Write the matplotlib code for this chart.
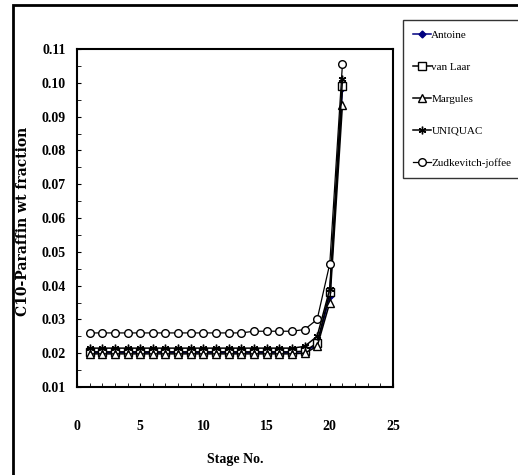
import matplotlib.pyplot as plt
from matplotlib.patches import Rectangle
from matplotlib.ticker import MultipleLocator

stages = list(range(1, 22))

antoine = [0.0202] * 17 + [0.0205, 0.0225, 0.037, 0.0985]
van_laar = [0.0204] * 17 + [0.0206, 0.023, 0.038, 0.099]
margules = [0.0198] * 17 + [0.0200, 0.022, 0.035, 0.0935]
uniquac = [0.0215] * 17 + [0.0220, 0.025, 0.039, 0.101]
zudkevitch = [0.026] * 13 + [0.0265] * 4 + [0.027, 0.030, 0.0465, 0.1055]


def main():
    plt.rcParams['font.family'] = 'Liberation Serif'
    fig = plt.figure(figsize=(5.18, 4.75), dpi=100)
    ax = fig.add_axes([77 / 518, 1 - 387 / 475, 316 / 518, 338 / 475])

    # outer chart frame (cut off on right and bottom like the original)
    fig.patches.append(Rectangle((13 / 518, -0.05), 1.1, 1 - 5 / 475 + 0.05,
                                 transform=fig.transFigure, fill=False,
                                 ec='black', lw=2))

    ms = 5.5
    ax.plot(stages, antoine, color='#000080', marker='D', ms=3.5, lw=1.1, label='Antoine')
    ax.plot(stages, van_laar, color='black', marker='s', ms=ms, mfc='white', lw=1.1, label='van Laar')
    ax.plot(stages, margules, color='black', marker='^', ms=ms, mfc='white', lw=1.1, label='Margules')
    ax.plot(stages, uniquac, color='black', marker=(6, 2, 0), ms=ms, lw=1.1, label='UNIQUAC')
    ax.plot(stages, zudkevitch, color='black', marker='o', ms=ms, mfc='white', lw=0.9, label='Zudkevitch-joffee')

    ax.set_xlim(0, 25)
    ax.set_ylim(0.01, 0.11)
    ax.xaxis.set_major_locator(MultipleLocator(5))
    ax.xaxis.set_minor_locator(MultipleLocator(1))
    ax.yaxis.set_major_locator(MultipleLocator(0.01))
    ax.yaxis.set_minor_locator(MultipleLocator(0.005))
    ax.yaxis.set_major_formatter(plt.FuncFormatter(lambda v, p: f'{v:.2f}'))
    ax.tick_params(which='both', direction='in', top=False, right=False)
    ax.tick_params(which='major', length=3, labelsize=10)
    ax.tick_params(which='minor', length=3)
    ax.tick_params(axis='x', pad=24)
    ax.tick_params(axis='y', pad=8)
    for lab in ax.get_xticklabels() + ax.get_yticklabels():
        lab.set_fontweight('bold')
    for s in ax.spines.values():
        s.set_linewidth(1.5)

    ax.set_xlabel('Stage No.', fontsize=10, fontweight='bold')
    ax.xaxis.set_label_coords(0.5, -0.195)
    ax.set_ylabel('C10-Paraffin wt fraction', fontsize=10, fontweight='bold',
                  family='DejaVu Serif')
    ax.yaxis.set_label_coords(-0.15, 0.49)

    leg = fig.legend(loc='upper left', bbox_to_anchor=(403 / 518, 1 - 20 / 475),
                     frameon=True, fancybox=False, edgecolor='black', fontsize=8,
                     handlelength=1.6, labelspacing=2.0, borderpad=0.9,
                     handletextpad=0.05, borderaxespad=0)
    leg.get_frame().set_linewidth(1)

    plt.savefig('out.png', dpi=100)


if __name__ == '__main__':
    main()
